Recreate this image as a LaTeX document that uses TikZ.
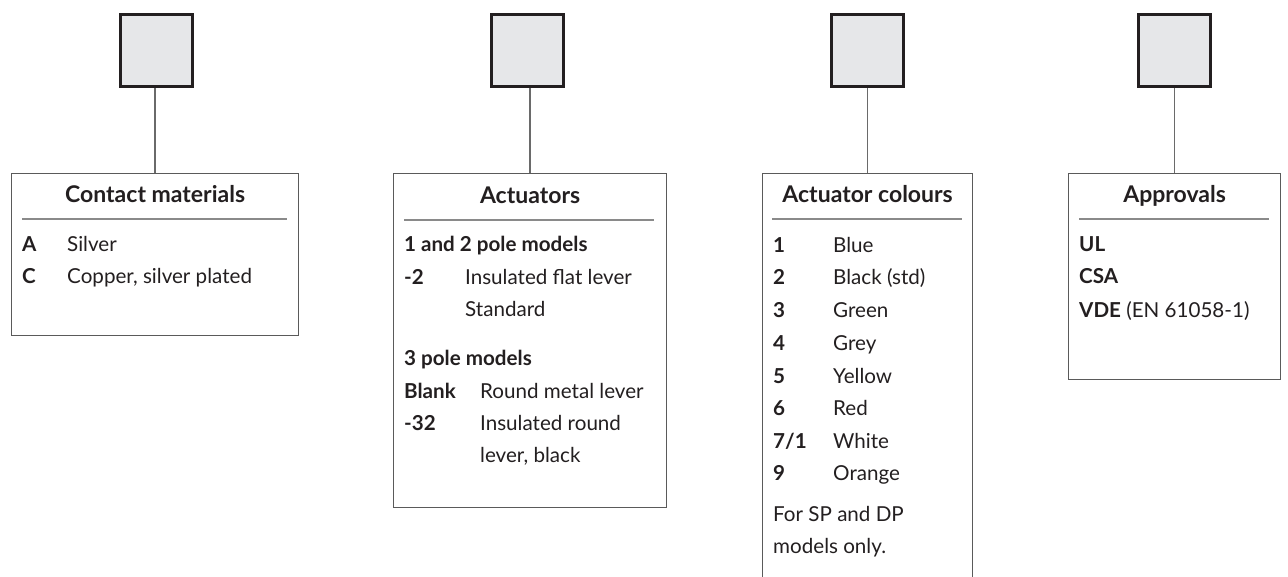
\documentclass[tikz,border=0pt]{standalone}
\usepackage{fontspec}
\setmainfont{Lato}
\definecolor{sqfill}{HTML}{E6E7E9}
\definecolor{boxline}{HTML}{5A5A5A}
\definecolor{sepline}{HTML}{8A8A8A}
\definecolor{connline}{HTML}{6A6A6A}
\definecolor{ink}{HTML}{231F20}
\begin{document}
\begin{tikzpicture}[x=1pt,y=-1pt,
  sqbox/.style={draw=ink, line width=3pt, fill=sqfill, minimum width=72pt, minimum height=72pt, inner sep=0pt},
  panel/.style={draw=boxline, line width=1.2pt, inner sep=0pt, anchor=north west},
  conn/.style={draw=connline, line width=1.4pt},
  sep/.style={draw=sepline, line width=1.5pt},
  ttl/.style={anchor=base, inner sep=0pt, text=ink, font=\fontsize{23}{23}\selectfont\bfseries},
  txt/.style={anchor=base west, inner sep=0pt, text=ink, font=\fontsize{20.6}{20.6}\selectfont},
  lbl/.style={anchor=base west, inner sep=0pt, text=ink, font=\fontsize{20.6}{20.6}\selectfont\bfseries}]
\clip (0,0) rectangle (1288,577);
\fill[white] (0,0) rectangle (1288,577);
% squares
\node[sqbox] (sq1) at (156,50.5) {};
\node[sqbox] (sq2) at (527,50.5) {};
\node[sqbox] (sq3) at (867.5,50.5) {};
\node[sqbox] (sq4) at (1174.5,50.5) {};
% panels
\node[panel, minimum width=287pt, minimum height=162pt] (bx1) at (11,173) {};
\node[panel, minimum width=273pt, minimum height=334pt] (bx2) at (393,173) {};
\node[panel, minimum width=210pt, minimum height=440pt] (bx3) at (762,173) {};
\node[panel, minimum width=212pt, minimum height=206pt] (bx4) at (1068,173) {};
% connectors
\draw[conn] (bx1.north) -- (bx1.north |- sq1.south);
\draw[conn] (bx2.north) -- (bx2.north |- sq2.south);
\draw[conn] (bx3.north) -- (bx3.north |- sq3.south);
\draw[conn] (bx4.north) -- (bx4.north |- sq4.south);
% separators
\draw[sep] (22,219) -- (287,219);
\draw[sep] (404,220) -- (654,220);
\draw[sep] (772,219) -- (962,219);
\draw[sep] (1079,219) -- (1269,219);
% panel 1
\node[ttl] (t1) at (bx1.north |- 0,203) {Contact materials};
\node[lbl] (a1) at (22,252) {A};
\node[txt] (a2) at (67,252) {Silver};
\node[lbl] (c1) at (22,284) {C};
\node[txt] (c2) at (67,284) {Copper, silver plated};
% panel 2
\node[ttl] (t2) at (bx2.north |- 0,204) {Actuators};
\node[lbl] (p12) at (404,252) {1 and 2 pole models};
\node[lbl] (m2) at (404,285) {-2};
\node[txt] (m2a) at (465,285) {Insulated flat lever};
\node[txt] (m2b) at (465,317) {Standard};
\node[lbl] (p3) at (404,365) {3 pole models};
\node[lbl] (bl) at (404,398) {Blank};
\node[txt] (bla) at (480,398) {Round metal lever};
\node[lbl] (m32) at (404,430) {-32};
\node[txt] (m32a) at (480,430) {Insulated round};
\node[txt] (m32b) at (480,462) {lever, black};
% panel 3
\node[ttl] (t3) at (bx3.north |- 0,203) {Actuator colours};
\node[lbl] (k1) at (773,253) {1};   \node[txt] (v1) at (833,253) {Blue};
\node[lbl] (k2) at (773,285) {2};   \node[txt] (v2) at (833,285) {Black (std)};
\node[lbl] (k3) at (773,318) {3};   \node[txt] (v3) at (833,318) {Green};
\node[lbl] (k4) at (773,350) {4};   \node[txt] (v4) at (833,350) {Grey};
\node[lbl] (k5) at (773,383) {5};   \node[txt] (v5) at (833,383) {Yellow};
\node[lbl] (k6) at (773,415) {6};   \node[txt] (v6) at (833,415) {Red};
\node[lbl] (k7) at (773,448) {7/1}; \node[txt] (v7) at (833,448) {White};
\node[lbl] (k9) at (773,480) {9};   \node[txt] (v9) at (833,480) {Orange};
\node[txt] (f1) at (773,521) {For SP and DP};
\node[txt] (f2) at (773,553) {models only.};
% panel 4
\node[ttl] (t4) at (bx4.north |- 0,203) {Approvals};
\node[lbl] (ul) at (1079,252) {UL};
\node[lbl] (csa) at (1079,284) {CSA};
\node[txt] (vde) at (1079,318) {\textbf{VDE} (EN 61058-1)};
\end{tikzpicture}
\end{document}
